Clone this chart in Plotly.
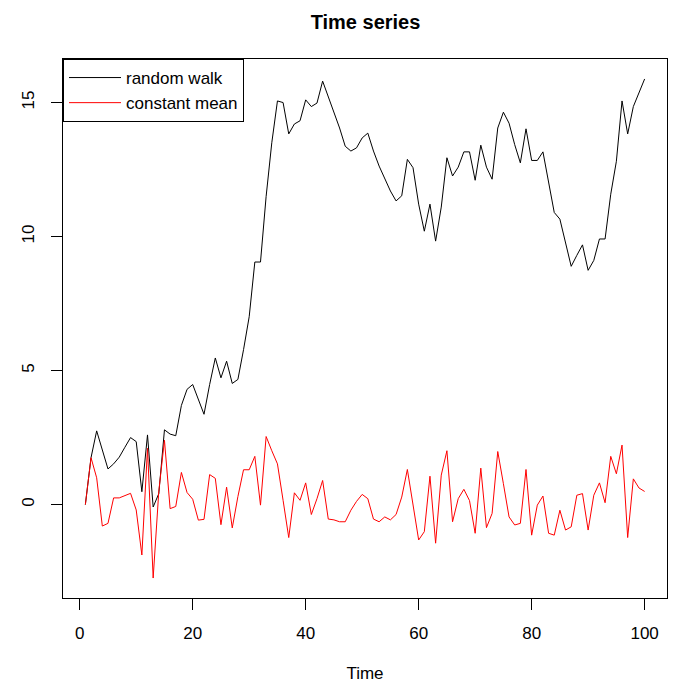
import plotly.graph_objects as go

time = list(range(1, 101))

random_walk = [
    0.0, 1.75, 2.75, 2.07, 1.33, 1.52, 1.77, 2.14, 2.5, 2.35,
    0.48, 2.6, -0.09, 0.41, 2.79, 2.63, 2.57, 3.7, 4.3, 4.48,
    3.93, 3.37, 4.48, 5.47, 4.73, 5.35, 4.52, 4.67, 5.78, 7.01,
    9.05, 9.05, 11.5, 13.5, 15.06, 15.0, 13.83, 14.2, 14.32, 15.1,
    14.85, 14.98, 15.8, 15.22, 14.6, 14.05, 13.37, 13.19, 13.31, 13.68,
    13.86, 13.19, 12.63, 12.14, 11.7, 11.33, 11.52, 12.88, 12.57, 11.21,
    10.2, 11.21, 9.83, 11.1, 12.94, 12.26, 12.59, 13.16, 13.16, 12.1,
    13.41, 12.59, 12.14, 14.05, 14.64, 14.23, 13.43, 12.75, 14.02, 12.84,
    12.84, 13.16, 11.95, 10.9, 10.65, 9.79, 8.89, 9.3, 9.69, 8.74,
    9.11, 9.91, 9.91, 11.58, 12.81, 15.06, 13.83, 14.85, 15.35, 15.88,
]

constant_mean = [
    0.0, 1.75, 1.0, -0.8, -0.7, 0.25, 0.25, 0.35, 0.42, -0.2,
    -1.88, 2.1, -2.74, 0.5, 2.4, -0.15, -0.07, 1.2, 0.45, 0.2,
    -0.58, -0.55, 1.12, 0.98, -0.75, 0.65, -0.87, 0.3, 1.3, 1.3,
    1.8, -0.02, 2.54, 2.01, 1.52, 0.16, -1.23, 0.44, 0.16, 0.81,
    -0.37, 0.22, 0.9, -0.54, -0.57, -0.64, -0.64, -0.21, 0.12, 0.38,
    0.22, -0.54, -0.64, -0.46, -0.57, -0.37, 0.28, 1.31, -0.02, -1.32,
    -1.01, 1.06, -1.44, 1.1, 2.01, -0.64, 0.22, 0.57, 0.15, -1.07,
    1.36, -0.86, -0.33, 1.98, 0.78, -0.46, -0.76, -0.7, 1.31, -1.14,
    -0.02, 0.32, -1.07, -1.14, -0.21, -0.95, -0.83, 0.35, 0.41, -0.95,
    0.35, 0.81, 0.07, 1.8, 1.15, 2.22, -1.23, 0.96, 0.62, 0.49,
]

x_ticks = [0, 20, 40, 60, 80, 100]
y_ticks = [0, 5, 10, 15]

FONT = "Liberation Sans, Arial, Helvetica, sans-serif"

fig = go.Figure()
fig.add_trace(go.Scatter(x=time, y=random_walk, mode="lines", name="random walk",
                         line=dict(color="black", width=1)))
fig.add_trace(go.Scatter(x=time, y=constant_mean, mode="lines", name="constant mean",
                         line=dict(color="#ff0000", width=1)))

# R-style 4% axis extension
xmin, xmax = min(time), max(time)
ymin = min(min(random_walk), min(constant_mean))
ymax = max(max(random_walk), max(constant_mean))
xpad = (xmax - xmin) * 0.04
ypad = (ymax - ymin) * 0.04

fig.update_layout(
    width=673, height=684,
    margin=dict(l=63, r=5, t=59, b=84),
    paper_bgcolor="white", plot_bgcolor="white",
    font=dict(family=FONT, size=17, color="black"),
    title=dict(text="<b>Time series</b>", font=dict(size=20, family=FONT),
               x=365.5 / 673, xref="container", xanchor="center",
               y=1 - 22 / 684, yref="container", yanchor="middle"),
    showlegend=True,
    legend=dict(x=0, y=1, xanchor="left", yanchor="top",
                bordercolor="black", borderwidth=1, bgcolor="white",
                font=dict(size=17, family=FONT), tracegroupgap=0,
                itemwidth=52),
    hovermode=False,
)

fig.update_xaxes(range=[xmin - xpad, xmax + xpad], tickvals=x_ticks,
                 ticktext=[str(v) for v in x_ticks],
                 showgrid=False, zeroline=False,
                 showline=True, mirror=True, linecolor="black", linewidth=1,
                 ticks="outside", ticklen=11, tickcolor="black", tickwidth=1,
                 ticklabelstandoff=9,
                 title=dict(text="Time", standoff=24, font=dict(size=17)))
fig.update_yaxes(range=[ymin - ypad, ymax + ypad], tickvals=y_ticks,
                 ticktext=[str(v) for v in y_ticks],
                 showgrid=False, zeroline=False,
                 showline=True, mirror=True, linecolor="black", linewidth=1,
                 ticks="outside", ticklen=11, tickcolor="black", tickwidth=1,
                 tickangle=-90, ticklabelstandoff=10)

fig.write_html("out.html", config={"displayModeBar": False})
